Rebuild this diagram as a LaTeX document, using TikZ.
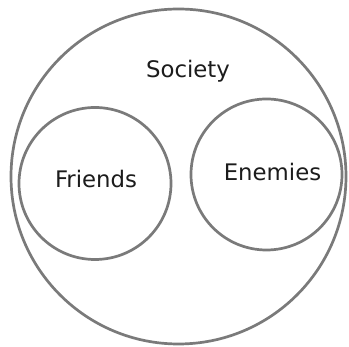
\documentclass[tikz,border=0pt]{standalone}
\usepackage{fontspec}
\setmainfont{DejaVu Sans}
\usetikzlibrary{positioning}
\definecolor{ringgray}{HTML}{7A7A7A}
\definecolor{inkgray}{HTML}{1C1C1C}

\begin{document}
\begin{tikzpicture}[
  x=1pt, y=-1pt,
  ring/.style={
    circle, draw=ringgray, line width=2.7pt, inner sep=0pt},
  lbl/.style={
    text=inkgray, inner sep=0pt, font=\fontsize{22.8}{27}\selectfont},
]
\useasboundingbox (0,0) rectangle (349,347);

%% ---- Circles ----
\node[ring, minimum size=335pt] (society) at (178.5,176.5) {};
\node[ring, minimum size=152pt] (friends) at (95,183.5)    {};
\node[ring, minimum size=151pt] (enemies) at (266.5,174.5) {};

%% ---- Labels ----
\node[lbl] (societylbl) at (188,71)  {Society};
\node[lbl] (friendslbl) at (96,179)  {Friends};
\node[lbl] (enemieslbl) at (272.5,172) {Enemies};

\end{tikzpicture}
\end{document}
